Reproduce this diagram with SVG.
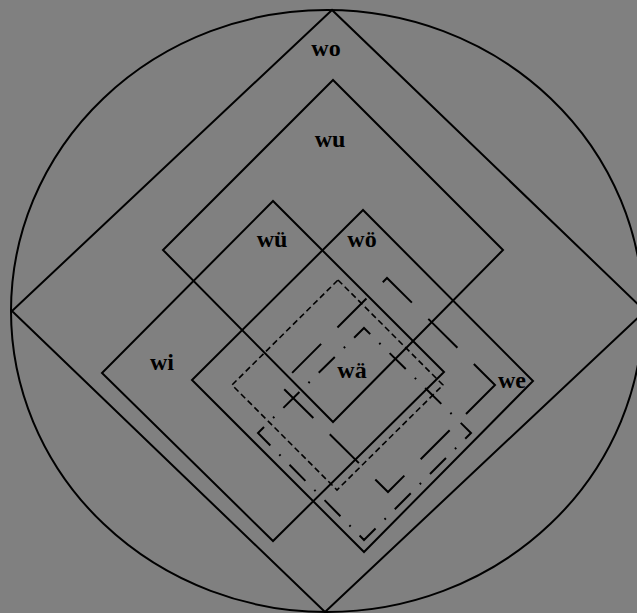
<svg xmlns="http://www.w3.org/2000/svg" width="637" height="613" viewBox="0 0 637 613">
<style>
.s{fill:none;stroke:#000;stroke-width:2;stroke-linejoin:miter}
.sd{fill:none;stroke:#000;stroke-width:1.6;stroke-dasharray:6,3.5}
.dd{fill:none;stroke:#000;stroke-width:2;stroke-dasharray:22.6,12.7,1.8,12.7;stroke-dashoffset:14.1}
.ld{fill:none;stroke:#000;stroke-width:2;stroke-dasharray:41,23.1}
text{font-family:"Liberation Serif","Times New Roman",serif;font-weight:bold;font-size:24px;fill:#000;text-anchor:middle}
</style>
<rect x="0" y="0" width="637" height="613" fill="#808080"/>
<g id="circle"><ellipse class="s" cx="327" cy="311" rx="316" ry="301"/></g>
<g id="wo"><path class="s" d="M332,10 L12,311 L325,612 L645,311 Z"/><text x="326" y="56">wo</text></g>
<g id="wu"><path class="s" d="M333,80 L163,250 L333,422 L503,250 Z"/><text x="330" y="147">wu</text></g>
<g id="wi"><path class="s" d="M273,201 L102,373 L273,541 L444,372 Z"/><text x="272" y="247">wü</text><text x="162" y="370">wi</text></g>
<g id="we"><path class="s" d="M363,210 L192,380 L364,552 L533,381 Z"/><text x="362" y="247">wö</text><text x="512" y="388">we</text></g>
<g id="dashed"><path class="sd" d="M338,280 L443,385 L337,490 L232,385 Z"/></g>
<g id="dashdot"><path class="dd" d="M258,433 L364,328 L471,433 L364,540 Z"/></g>
<g id="longdash"><path class="ld" d="M495,385 L388,492 L280,385 L387,278 Z"/><text x="352" y="378">wä</text></g>
<g id="connectors"></g>
</svg>
